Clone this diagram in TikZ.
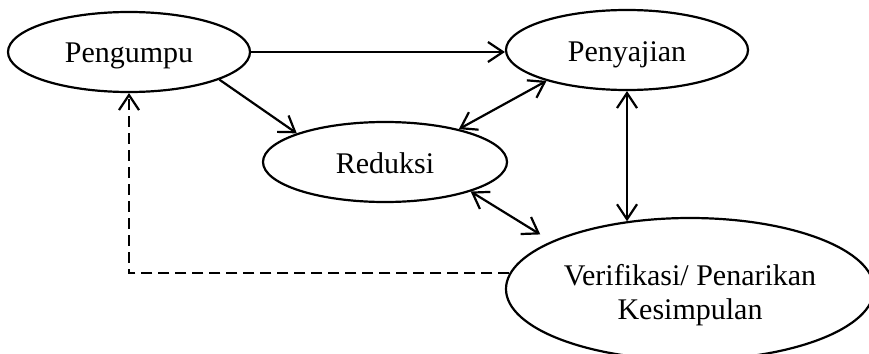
\documentclass[tikz,border=0pt]{standalone}
\usepackage{fontspec}
\setmainfont{Liberation Serif}
\usetikzlibrary{shapes.geometric,arrows.meta}
\begin{document}
\begin{tikzpicture}[x=1pt,y=-1pt,
  every node/.style={font=\fontsize{30}{34}\selectfont},
  bubble/.style={draw, ellipse, line width=2.2pt, inner sep=0pt},
  oneline/.style={text height=22pt, text depth=0pt},
  tip/.tip={Straight Barb[length=15pt,width=20pt]},
  link/.style={line width=2.2pt, -tip},
  both/.style={line width=2.2pt, tip-tip},
  back/.style={link, dash pattern=on 11pt off 6pt}]
\useasboundingbox (0,0) rectangle (869,353);
\clip (0,0) rectangle (869,353);

% stages of the analysis
\node[bubble, oneline, minimum width=242pt, minimum height=80pt] (p) at (129,52) {Pengumpu};
\node[bubble, oneline, minimum width=242pt, minimum height=80pt] (s) at (627,50) {Penyajian};
\node[bubble, oneline, minimum width=244pt, minimum height=80pt] (r) at (385,162) {Reduksi};
\node[bubble, minimum width=368pt, minimum height=142pt] (v) at (690,289) {};
\node[align=center, yshift=-6pt] (vt) at (v.center) {Verifikasi/ Penarikan\\Kesimpulan};

% flows between the stages
\draw[link] (p.east) -- (p.east -| s.west);
\draw[link] (p.-17) -- (r.162);
\draw[both] (s.201) -- (r.24);
\draw[both] (s.south) -- (s.south |- v.133);
\draw[both, shorten >=13pt] (r.-19) -- (v.161);
\draw[back] (v.175) -| (p.south);
\end{tikzpicture}
\end{document}
